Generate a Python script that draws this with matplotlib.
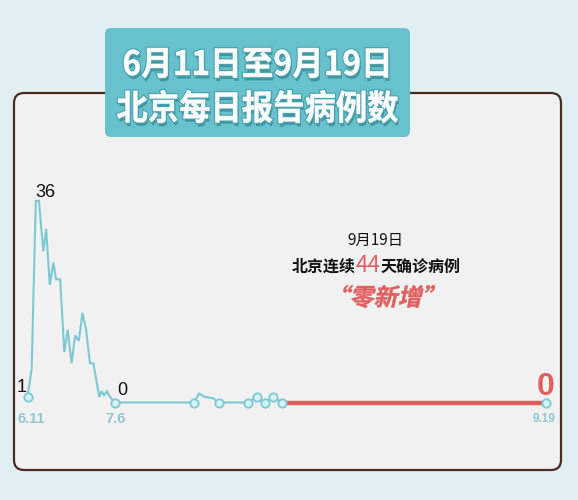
import matplotlib
matplotlib.use('Agg')
import matplotlib.pyplot as plt
from matplotlib.patches import FancyBboxPatch, PathPatch
from matplotlib.textpath import TextPath
from matplotlib.font_manager import FontProperties
from matplotlib.transforms import IdentityTransform, Affine2D
import matplotlib.patheffects as pe

# ---------------- data ----------------
title_lines = ['6月11日至9月19日', '北京每日报告病例数']
note_date = '9月19日'
note_parts = ['北京连续', '44', '天确诊病例']
note_slogan = '“零新增”'

# x = position along the chart (0 = 6.11, 100 = 9.19)
blue_x = [0, 0.8, 1.6, 2.2, 3.05, 3.6, 4.3, 5.0, 5.5, 6.3, 7.1, 7.75, 8.5, 9.2,
          9.9, 10.6, 11.3, 12.05, 12.7, 13.85, 14.3, 14.75, 15.3, 15.9, 16.9,
          32.1, 33.1, 34.2, 35.8, 36.9, 42.5, 44.2, 45.8, 47.4, 49.0]
blue_y = [1, 6, 36, 36, 27, 31, 21, 25, 22, 22, 9, 13, 7, 12,
          11, 16, 13, 7, 7, 1, 2, 1.3, 2, 1, 0,
          0, 1.6, 1, 0.75, 0, 0, 1, 0, 1, 0]
blue_marked = [0, 24, 25, 29, 30, 31, 32, 33, 34]
red_x = [49.0, 100.0]
red_y = [0, 0]
tick_x = [0, 16.9, 100]
tick_labels = ['6.11', '7.6', '9.19']
value_labels = [(0, 1, '1'), (1.6, 36, '36'), (16.9, 0, '0')]
final_label = (100, 0, '0')

# ---------------- style ----------------
W, H = 578, 500
CJK = ['Noto Sans CJK SC', 'DejaVu Sans']
LAT = ['Liberation Sans', 'DejaVu Sans']
BG = '#dfeff2'
PANEL = '#f2f1f1'
BORDER = '#4a2b22'
TEAL = '#7cc9d2'
TEAL_BOX = '#68c2ce'
MARK_FACE = '#d4f2f5'
RED = '#e05f5f'
TICK = '#8fc6d3'

fig = plt.figure(figsize=(W / 100, H / 100), dpi=100)
fig.patch.set_facecolor(BG)


def box(x0, y0, x1, y1):
    return x0, H - y1, x1 - x0, y1 - y0


px, py, pw, ph = box(14, 93, 561, 470)
panel = FancyBboxPatch((px, py), pw, ph, boxstyle='round,pad=0,rounding_size=10',
                       transform=IdentityTransform(), facecolor=PANEL,
                       edgecolor=BORDER, linewidth=1.6, zorder=-2)
fig.add_artist(panel)

tx, ty, tw, th = box(105, 28, 410, 137)
tbox = FancyBboxPatch((tx, ty), tw, th, boxstyle='round,pad=0,rounding_size=6',
                      transform=IdentityTransform(), facecolor=TEAL_BOX,
                      edgecolor='none', zorder=5)
fig.add_artist(tbox)


def fitted_text(s, x0, y0, x1, y1, color, skew=0, effects=None, zorder=6, weight='bold'):
    fp = FontProperties(family='Noto Sans CJK SC', weight=weight)
    path = TextPath((0, 0), s, size=100, prop=fp)
    ext = path.get_extents()
    sx = (x1 - x0) / ext.width
    sy = (y1 - y0) / ext.height
    cx = (ext.x0 + ext.x1) / 2
    cy = (ext.y0 + ext.y1) / 2
    tr = (Affine2D().translate(-cx, -cy).scale(sx, sy).skew_deg(skew, 0)
          .translate((x0 + x1) / 2, H - (y0 + y1) / 2))
    p = PathPatch(path, transform=tr, facecolor=color, edgecolor=color, lw=0.3,
                  zorder=zorder)
    if effects:
        p.set_path_effects(effects)
    fig.add_artist(p)


title_fx = [pe.SimplePatchShadow(offset=(1.0, -2.5), shadow_rgbFace='#3c8f9b', alpha=0.9),
            pe.Stroke(linewidth=2.0, foreground='#4aa3af'), pe.Normal()]
fitted_text(title_lines[0], 124, 48, 388, 78, 'white', effects=title_fx)
fitted_text(title_lines[1], 117, 90, 398, 123, 'white', effects=title_fx)

# axes mapping: pixel = X0 + XS*x, Y0 - YS*v
X0, XS, Y0, YS = 27.5, 5.185, 402.5, 5.6
ax = fig.add_axes([0, 0, 1, 1])
ax.set_xlim((0 - X0) / XS, (W - X0) / XS)
ax.set_ylim((Y0 - H) / YS, Y0 / YS)
ax.axis('off')
ax.patch.set_alpha(0)

ax.plot(blue_x, blue_y, color=TEAL, lw=1.5, zorder=3, solid_joinstyle='miter')
ax.plot(red_x, red_y, color=RED, lw=3.2, zorder=3, solid_capstyle='butt')
mx = [blue_x[i] for i in blue_marked] + [red_x[-1]]
my = [blue_y[i] for i in blue_marked] + [red_y[-1]]
ax.plot(mx, my, ls='none', marker='o', ms=6, mfc=MARK_FACE, mec=TEAL, mew=1.3, zorder=4)

lab_offsets = [(-5.8, 4.9), (9.2, 3.9), (7, 7.5)]
for (x, v, s), off in zip(value_labels, lab_offsets):
    ax.annotate(s, (x, v), xytext=off, textcoords='offset pixels', ha='center',
                va='baseline', fontsize=13, family=LAT, color='#111111')

tick_offsets = [(4, -20.5), (0, -20.5), (-2, -19.5)]
tick_sizes = [10.5, 10.5, 8.5]
for x, s, off, fs in zip(tick_x, tick_labels, tick_offsets, tick_sizes):
    ax.annotate(s, (x, 0), xytext=off, textcoords='offset pixels', ha='center',
                va='baseline', fontsize=fs, family=LAT, color=TICK, fontweight='bold')

ax.annotate(final_label[2], final_label[:2], xytext=(0, 7.5), textcoords='offset pixels',
            ha='center', va='baseline', fontsize=23, family=LAT, color=RED,
            fontweight='bold')

# notes
fig.text(375 / W, 1 - 240 / H, note_date, ha='center', va='center', fontsize=11,
         family=CJK, color='#111111')

renderer = fig.canvas.get_renderer()
styles = [dict(color='#111111', fontsize=11.5, fontweight='bold'),
          dict(color=RED, fontsize=16, fontweight='normal'),
          dict(color='#111111', fontsize=11.5, fontweight='bold')]
texts = []
for s, st in zip(note_parts, styles):
    t = fig.text(0, 1 - 272 / H, s, ha='left', va='baseline', family=CJK, **st)
    texts.append(t)
widths = [t.get_window_extent(renderer).width for t in texts]
total = sum(widths)
cur = 376.5 - total / 2
for t, w in zip(texts, widths):
    t.set_x(cur / W)
    cur += w

fitted_text(note_slogan, 342, 285, 433, 308, RED, skew=12)

fig.savefig('out.png', dpi=100, facecolor=BG)
